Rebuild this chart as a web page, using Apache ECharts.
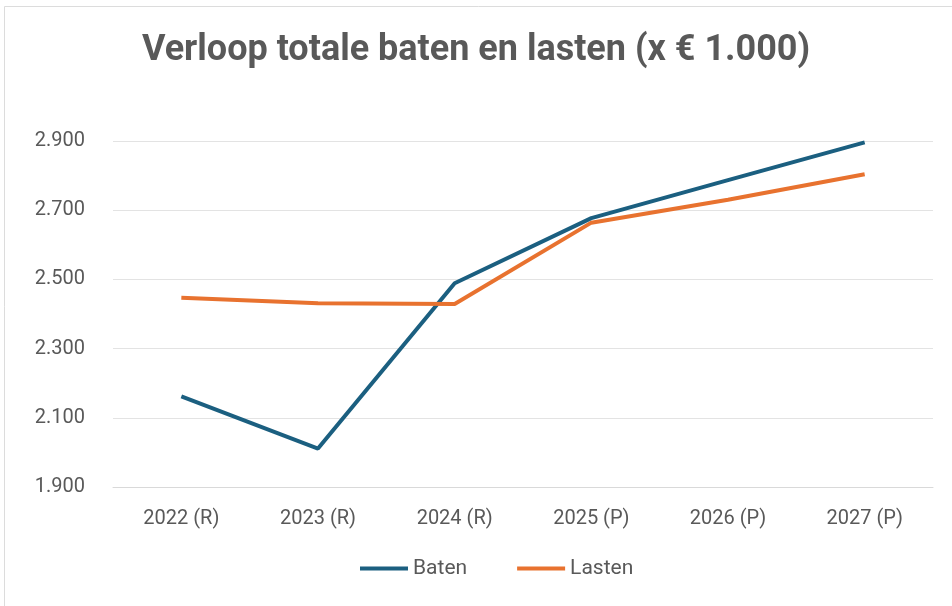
<!DOCTYPE html>
<html>
<head>
<meta charset="utf-8">
<script src="https://cdn.jsdelivr.net/npm/echarts@6/dist/echarts.min.js"></script>
<style>
	html, body { margin: 0; padding: 0; background: #ffffff; }
	#chart { width: 952px; height: 606px; }
</style>
</head>
<body>
<div id="chart"></div>
<script>
	// jaren (R = realisatie, P = prognose)
	var categories = ['2022 (R)', '2023 (R)', '2024 (R)', '2025 (P)', '2026 (P)', '2027 (P)'];
	var batenData = [2162, 2011, 2489, 2677, 2787, 2896];
	var lastenData = [2447, 2431, 2429, 2664, 2730, 2804];
	var yTicks = [1900, 2100, 2300, 2500, 2700, 2900];

	var chart = echarts.init(document.getElementById('chart'));

	// 2900 -> 2.900
	function fmt(v) {
		return String(v).replace(/\B(?=(\d{3})+(?!\d))/g, '.');
	}

	var option = {
		backgroundColor: '#ffffff',
		color: ['#1b5f80', '#e8722f'],
		textStyle: {
			fontFamily: 'Roboto'
		},
		// lichte kader linksboven
		graphic: [{
			type: 'rect',
			shape: { x: 4.5, y: 6.5, width: 980, height: 640 },
			style: { fill: 'none', stroke: '#dcdcdc', lineWidth: 1 },
			silent: true
		}],
		title: {
			text: 'Verloop totale baten en lasten (x € 1.000)',
			left: 'center',
			top: 28,
			textStyle: {
				fontFamily: 'Roboto',
				fontSize: 36,
				fontWeight: 'bold',
				color: '#595959'
			}
		},
		legend: {
			bottom: 22,
			left: 355,
			itemWidth: 48,
			itemHeight: 4,
			itemGap: 50,
			icon: 'rect',
			textStyle: {
				fontSize: 21,
				color: '#595959',
				padding: [0, 0, 0, 0]
			},
			data: ['Baten', 'Lasten']
		},
		grid: {
			left: 113,
			right: 19,
			top: 141,
			bottom: 119
		},
		xAxis: {
			type: 'category',
			data: categories,
			boundaryGap: true,
			axisLine: { show: true, lineStyle: { color: '#d9d9d9', width: 1 } },
			axisTick: { show: false },
			axisLabel: {
				fontSize: 20,
				color: '#595959',
				margin: 22
			}
		},
		yAxis: {
			type: 'value',
			min: yTicks[0],
			max: yTicks[yTicks.length - 1],
			interval: 200,
			axisLine: { show: false },
			axisTick: { show: false },
			splitLine: { lineStyle: { color: '#e3e3e3', width: 1 } },
			axisLabel: {
				fontSize: 20,
				color: '#595959',
				margin: 28,
				formatter: fmt
			}
		},
		series: [{
				name: 'Baten',
				type: 'line',
				data: batenData,
				symbol: 'none',
				lineStyle: { width: 4 }
			},
			{
				name: 'Lasten',
				type: 'line',
				data: lastenData,
				symbol: 'none',
				lineStyle: { width: 4 }
			}
		]
	};
	chart.setOption(option);
</script>
</body>
</html>
